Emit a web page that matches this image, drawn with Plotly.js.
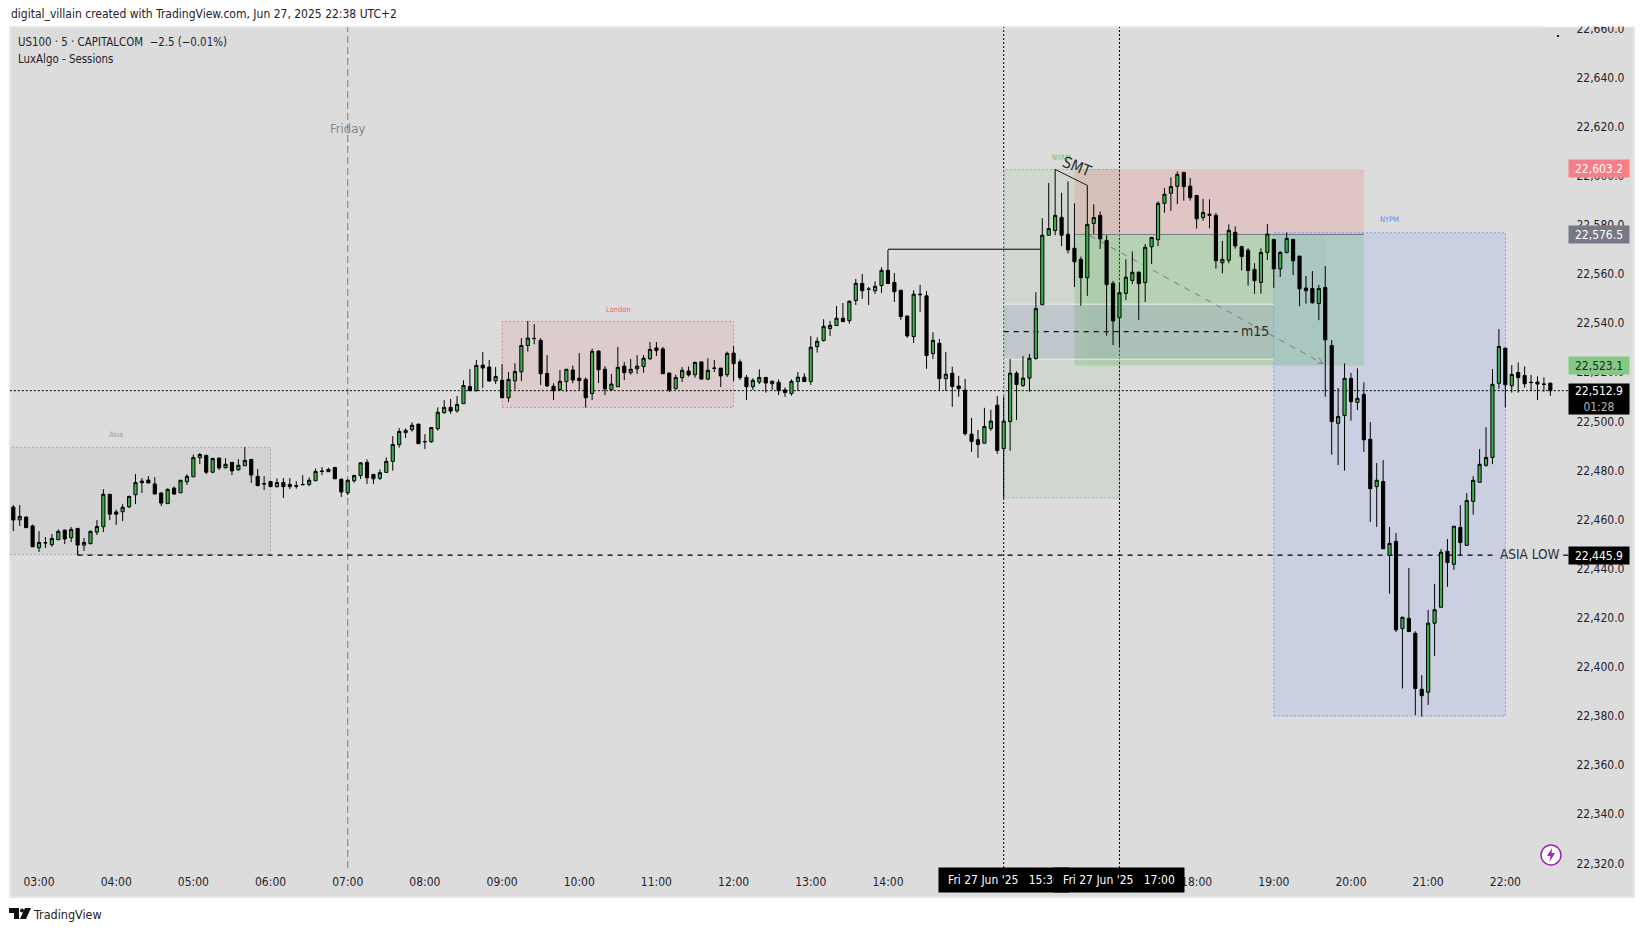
<!DOCTYPE html>
<html>
<head>
<meta charset="utf-8">
<title>US100 5m</title>
<script src="https://cdn.plot.ly/plotly-3.0.1.min.js"></script>
<style>
    html, body { margin: 0; padding: 0; background: #fff; }
    #chart { width: 1644px; height: 931px; }
</style>
</head>
<body>
<div id="chart"></div>
<script>
// candles, 5 minute bars from 02:40 to 22:35
const opens = [
    22465.5,22460.3,22461.4,22457.8,22448.9,22451.0,22450.2,22452.2,22456.1,22453.0,
    22456.8,22450.0,22450.6,22455.3,22457.5,22470.7,22463.5,22463.6,22465.6,22470.5,
    22476.1,22476.5,22474.9,22471.2,22466.9,22473.2,22471.3,22475.8,22477.8,22485.6,
    22486.5,22479.7,22485.4,22481.5,22483.7,22480.7,22482.3,22484.9,22478.0,22475.1,
    22475.9,22473.8,22475.5,22473.8,22474.2,22474.7,22474.7,22476.2,22480.2,22479.9,
    22481.6,22476.8,22471.3,22476.2,22478.3,22483.7,22478.8,22477.2,22479.6,22484.1,
    22490.9,22495.8,22497.0,22499.3,22492.2,22492.1,22497.4,22503.9,22506.1,22504.7,
    22507.6,22514.6,22512.9,22523.3,22522.5,22516.9,22517.1,22510.0,22516.9,22520.6,
    22531.3,22534.2,22533.4,22519.9,22514.7,22513.3,22516.6,22521.3,22518.0,22517.5,
    22511.7,22529.0,22521.6,22513.3,22514.5,22522.9,22520.2,22521.8,22522.7,22525.9,
    22530.3,22529.9,22520.1,22513.7,22518.2,22520.9,22519.4,22524.6,22517.6,22522.1,
    22522.1,22519.4,22528.2,22524.6,22518.3,22514.5,22516.4,22518.3,22515.7,22516.3,
    22513.2,22511.7,22516.6,22518.4,22516.6,22530.8,22533.3,22538.2,22539.4,22542.4,
    22541.4,22549.6,22556.6,22554.3,22553.6,22555.7,22561.9,22557.0,22553.8,22543.3,
    22534.9,22552.2,22551.5,22528.0,22532.2,22517.8,22520.0,22514.8,22513.1,22495.2,
    22492.9,22491.5,22497.5,22507.0,22489.3,22500.3,22520.0,22515.0,22518.0,22526.0,
    22547.9,22576.2,22578.1,22583.5,22576.6,22570.9,22566.4,22558.9,22581.0,22584.3,
    22574.1,22556.6,22542.6,22552.5,22557.8,22561.1,22556.9,22571.5,22574.4,22589.2,
    22593.3,22596.1,22601.8,22596.2,22592.4,22583.4,22584.8,22584.3,22565.0,22566.0,
    22577.4,22571.5,22570.1,22562.3,22557.0,22569.2,22574.5,22562.5,22569.2,22574.5,
    22567.7,22554.7,22554.5,22548.4,22554.9,22531.3,22499.6,22502.8,22517.9,22508.1,
    22511.4,22493.1,22473.8,22475.9,22445.8,22451.5,22416.0,22420.2,22414.1,22391.3,
    22390.1,22418.2,22424.7,22447.5,22442.2,22457.2,22449.9,22467.8,22475.6,22482.5,
    22485.7,22515.9,22530.2,22514.9,22520.3,22519.1,22516.3,22516.4,22515.6,22515.9
];
const highs = [
    22466.3,22466.3,22461.7,22458.4,22455.7,22453.3,22454.5,22456.4,22456.4,22457.4,
    22456.8,22452.9,22456.0,22460.2,22472.8,22470.7,22464.5,22466.7,22470.2,22478.9,
    22477.3,22478.1,22477.7,22471.6,22473.1,22473.9,22476.5,22478.9,22486.9,22487.5,
    22486.9,22485.4,22485.7,22485.4,22483.8,22485.0,22489.9,22484.9,22481.0,22478.1,
    22476.2,22477.2,22477.3,22477.3,22476.1,22478.5,22477.6,22481.2,22481.8,22481.5,
    22481.9,22477.2,22476.8,22478.7,22483.8,22484.9,22478.9,22480.8,22485.7,22494.4,
    22497.7,22497.5,22500.0,22499.3,22495.2,22497.9,22506.1,22509.1,22509.5,22510.7,
    22517.1,22521.7,22525.4,22528.6,22525.4,22522.5,22523.7,22520.5,22524.1,22534.3,
    22541.3,22540.0,22534.3,22527.4,22515.9,22521.3,22521.6,22523.1,22528.2,22518.3,
    22530.0,22529.3,22522.9,22519.7,22530.7,22524.6,22525.8,22527.4,22527.4,22532.7,
    22532.7,22530.7,22520.1,22519.4,22522.5,22522.7,22524.7,22524.8,22526.1,22525.4,
    22522.1,22528.8,22531.1,22525.6,22519.3,22518.0,22521.6,22518.3,22517.1,22517.5,
    22514.2,22517.5,22520.5,22520.0,22535.1,22534.6,22542.0,22541.3,22547.4,22548.6,
    22549.7,22558.4,22560.4,22555.1,22557.4,22563.1,22570.2,22560.8,22553.9,22543.3,
    22553.8,22556.0,22553.4,22536.7,22534.0,22528.7,22522.6,22518.9,22517.7,22501.8,
    22496.9,22505.9,22505.1,22510.8,22510.5,22525.8,22520.8,22527.0,22527.9,22553.0,
    22583.1,22597.5,22603.0,22593.5,22598.1,22589.2,22567.5,22596.5,22588.8,22585.9,
    22576.2,22557.6,22556.6,22566.4,22569.6,22561.5,22572.6,22575.3,22590.0,22595.4,
    22599.8,22602.2,22601.9,22599.5,22592.6,22591.0,22590.8,22585.3,22573.9,22580.6,
    22579.8,22572.0,22570.9,22564.8,22570.9,22580.7,22574.5,22569.7,22577.3,22574.6,
    22567.7,22559.6,22561.6,22555.9,22563.6,22533.5,22514.0,22524.0,22520.1,22522.0,
    22516.3,22500.1,22483.4,22484.6,22457.4,22454.9,22420.9,22440.7,22414.9,22397.1,
    22423.6,22434.2,22448.4,22452.5,22457.7,22466.3,22471.2,22478.1,22489.1,22498.0,
    22521.7,22538.0,22530.2,22523.3,22524.4,22522.8,22519.3,22518.7,22518.3,22516.3
];
const lows = [
    22455.7,22457.8,22457.1,22449.3,22447.2,22448.8,22449.3,22452.2,22450.4,22451.2,
    22445.9,22447.6,22450.3,22454.1,22455.3,22460.2,22458.2,22459.8,22465.1,22466.7,
    22471.2,22475.3,22470.8,22465.9,22466.9,22470.4,22471.3,22474.5,22477.8,22483.0,
    22478.9,22479.3,22480.6,22481.2,22478.5,22480.3,22482.3,22475.3,22474.2,22472.4,
    22473.8,22473.4,22469.2,22472.8,22473.0,22474.6,22474.0,22476.2,22478.5,22479.9,
    22477.0,22469.6,22470.4,22475.4,22476.9,22474.9,22474.9,22476.5,22479.6,22480.3,
    22489.7,22493.6,22496.2,22491.3,22489.1,22491.6,22496.6,22503.5,22503.5,22503.9,
    22507.6,22512.7,22512.5,22514.0,22516.8,22515.6,22510.0,22508.3,22513.3,22516.8,
    22528.8,22531.8,22515.2,22514.5,22509.1,22512.8,22512.5,22515.9,22513.2,22506.0,
    22509.1,22516.0,22511.1,22513.0,22514.5,22517.2,22519.4,22519.7,22520.2,22525.4,
    22527.0,22519.8,22512.3,22513.4,22516.4,22518.6,22518.2,22517.4,22517.2,22520.5,
    22514.4,22518.5,22516.8,22517.2,22509.1,22513.2,22515.6,22512.1,22513.2,22511.1,
    22510.4,22510.9,22512.8,22516.6,22515.2,22528.4,22532.9,22535.2,22539.4,22541.0,
    22540.2,22547.8,22550.3,22547.8,22552.3,22552.7,22556.5,22549.0,22541.7,22534.4,
    22532.3,22545.0,22521.8,22525.8,22512.8,22512.8,22506.3,22510.4,22494.6,22488.0,
    22485.5,22491.5,22496.5,22487.2,22469.2,22488.4,22501.0,22514.4,22512.5,22525.5,
    22547.9,22576.2,22576.2,22571.8,22568.8,22555.1,22547.5,22551.5,22576.7,22570.6,
    22535.3,22531.5,22530.6,22549.8,22556.3,22541.7,22549.0,22564.5,22571.8,22585.4,
    22586.1,22588.9,22590.3,22590.3,22578.9,22582.1,22579.0,22562.6,22560.7,22564.8,
    22570.7,22561.8,22555.7,22552.4,22552.4,22566.1,22554.8,22559.2,22568.8,22560.0,
    22547.3,22548.3,22548.3,22541.6,22510.4,22486.8,22482.6,22480.3,22500.7,22505.0,
    22488.0,22459.4,22457.4,22448.5,22430.2,22414.6,22391.6,22414.8,22380.8,22380.2,
    22384.9,22404.9,22424.7,22433.0,22439.9,22445.6,22449.9,22462.4,22475.6,22481.9,
    22483.0,22513.7,22506.0,22512.1,22512.1,22514.1,22512.7,22509.1,22512.5,22510.8
];
const closes = [
    22460.2,22461.7,22457.1,22449.3,22451.1,22450.9,22452.7,22455.6,22452.5,22456.4,
    22450.0,22451.1,22455.6,22457.6,22470.7,22462.6,22462.6,22465.4,22469.8,22475.5,
    22475.4,22475.3,22470.8,22467.1,22472.7,22470.8,22476.4,22478.0,22485.7,22486.9,
    22479.7,22485.3,22481.4,22482.9,22480.2,22482.5,22484.5,22478.5,22474.2,22474.9,
    22473.8,22475.5,22473.8,22474.7,22474.0,22474.6,22476.4,22480.0,22480.0,22480.8,
    22477.0,22471.6,22476.4,22478.3,22483.5,22477.4,22477.0,22479.5,22484.1,22491.0,
    22496.3,22496.7,22498.8,22491.3,22492.1,22497.9,22504.1,22506.1,22504.6,22507.3,
    22515.0,22512.9,22523.2,22522.1,22516.8,22518.7,22510.0,22517.5,22520.7,22531.3,
    22534.3,22534.1,22519.8,22514.8,22512.9,22516.7,22521.6,22517.2,22517.0,22510.0,
    22528.9,22521.4,22513.6,22515.6,22522.4,22520.2,22521.6,22522.9,22526.1,22529.7,
    22529.2,22519.8,22513.2,22518.3,22521.2,22519.3,22524.4,22517.6,22521.2,22522.0,
    22518.9,22528.1,22523.9,22518.2,22514.5,22517.1,22518.3,22516.0,22516.7,22512.9,
    22512.1,22516.7,22518.4,22516.6,22530.6,22533.0,22539.1,22539.5,22542.4,22541.0,
    22549.3,22556.6,22553.6,22554.2,22555.4,22561.9,22556.5,22553.2,22543.1,22535.2,
    22552.2,22552.0,22527.2,22533.4,22517.8,22519.6,22514.6,22513.7,22495.4,22492.2,
    22491.0,22498.3,22500.5,22488.5,22500.5,22520.0,22515.4,22518.0,22526.1,22546.3,
    22576.2,22578.9,22584.3,22576.2,22570.2,22565.4,22558.9,22580.6,22583.4,22574.7,
    22556.1,22541.3,22552.8,22559.1,22561.1,22556.5,22571.3,22575.3,22589.2,22592.9,
    22596.0,22601.0,22596.0,22591.5,22582.9,22585.5,22584.3,22565.8,22566.4,22578.2,
    22571.8,22567.5,22561.8,22557.7,22569.2,22576.7,22562.5,22569.2,22574.9,22565.8,
    22554.4,22553.6,22548.7,22554.5,22533.6,22500.3,22502.4,22517.9,22508.4,22509.8,
    22492.9,22473.0,22476.4,22448.5,22450.7,22415.5,22420.6,22414.8,22391.6,22388.7,
    22418.2,22423.7,22447.1,22442.9,22457.7,22451.0,22468.2,22476.4,22482.9,22485.7,
    22515.5,22530.9,22515.3,22519.5,22518.2,22515.7,22516.2,22515.6,22515.5,22512.9
];

const DAY = '2025-06-27 ';
const START_MS = Date.UTC(2025, 5, 27, 2, 40);
const FONT = '"DejaVu Sans Condensed", "DejaVu Sans", sans-serif';
const INK = '#1e222d';

// hours that show on the time axis, 15:00 to 17:00 sit behind the crosshair tags
const hourLabels = ['03:00','04:00','05:00','06:00','07:00','08:00','09:00','10:00','11:00','12:00','13:00','14:00','18:00','19:00','20:00','21:00','22:00'];

// price levels on the axis labels
const lastPrice = 22512.9;
const asiaLow = 22445.9;
const stopPrice = 22603.2;
const entryPrice = 22576.5;
const targetPrice = 22523.1;

// plot box on the page, px
const PLOT = { l: 10, r: 1569, t: 27, b: 868 };
const pxX = px => (px - PLOT.l) / (PLOT.r - PLOT.l);
const pxY = py => (PLOT.b - py) / (PLOT.b - PLOT.t);

function barTime(k) {
    return new Date(START_MS + k * 300000).toISOString().slice(0, 19).replace('T', ' ');
}
const candleTimes = opens.map((_, k) => barTime(k));

function rect(x0, x1, y0, y1, fill, lineColor, dash) {
    return {
        type: 'rect', layer: 'below', xref: 'x', yref: 'y',
        x0: DAY + x0, x1: DAY + x1, y0: y0, y1: y1, fillcolor: fill,
        line: { color: lineColor || 'rgba(0,0,0,0)', width: lineColor ? 1 : 0, dash: dash || 'solid' },
    };
}
function seg(x0, y0, x1, y1, color, width, dash) {
    return {
        type: 'line', layer: 'below', xref: 'x', yref: 'y',
        x0: DAY + x0, x1: DAY + x1, y0: y0, y1: y1,
        line: { color: color, width: width || 1, dash: dash || 'solid' },
    };
}
function vLine(x, color, dash) {
    return {
        type: 'line', layer: 'below', xref: 'x', yref: 'paper',
        x0: DAY + x, x1: DAY + x, y0: 0, y1: 1, line: { color: color, width: 1, dash: dash },
    };
}
function pageRect(l, r, t, b, fill, layer, lineColor) {
    return {
        type: 'rect', layer: layer, xref: 'paper', yref: 'paper',
        x0: pxX(l), x1: pxX(r), y0: pxY(b), y1: pxY(t), fillcolor: fill,
        line: { color: lineColor || 'rgba(0,0,0,0)', width: lineColor ? 2 : 0 },
    };
}
function pagePath(points, fill) {
    const d = points.map((p, i) => (i ? 'L' : 'M') + pxX(p[0]) + ' ' + pxY(p[1])).join(' ') + ' Z';
    return { type: 'path', layer: 'above', xref: 'paper', yref: 'paper', path: d, fillcolor: fill, line: { width: 0 } };
}
function pageText(text, px, py, size, color, anchor, extra) {
    return Object.assign({
        text: text, xref: 'paper', yref: 'paper', x: pxX(px), y: pxY(py), showarrow: false,
        xanchor: anchor || 'center', yanchor: 'middle', font: { family: FONT, size: size, color: color },
    }, extra || {});
}
function priceTag(text, price, bg, color, height, yshift) {
    return {
        text: text, xref: 'paper', yref: 'y', x: pxX(1568), y: price, xanchor: 'left', yanchor: yshift ? 'top' : 'middle',
        yshift: yshift || 0, showarrow: false, width: 60, height: height, bgcolor: bg, borderpad: 0, align: 'center',
        font: { family: FONT, size: 12, color: color },
    };
}
function timeTag(text, x) {
    return {
        text: text, xref: 'x', yref: 'paper', x: DAY + x, y: 1, yshift: -(PLOT.b - PLOT.t) - 12, xanchor: 'center', yanchor: 'middle',
        showarrow: false, width: 130, height: 24, bgcolor: '#000', borderpad: 0, align: 'center',
        font: { family: FONT, size: 12, color: '#fff' },
    };
}

const trace = {
    type: 'candlestick', x: candleTimes, open: opens, high: highs, low: lows, close: closes,
    whiskerwidth: 0,
    increasing: { line: { color: '#000', width: 1 }, fillcolor: '#3cae49' },
    decreasing: { line: { color: '#000', width: 1 }, fillcolor: '#000' },
    hoverinfo: 'skip', showlegend: false,
};

const shapes = [
    pageRect(10, 1634, 27, 897, '#dcdcdc', 'below', '#e6e6e6'),
    // sessions
    rect('02:00', '06:00', 22446.2, 22489.8, 'rgba(120,120,120,0.09)', '#a9a9a9', '2px,2px'),
    rect('09:00', '12:00', 22506.1, 22541.1, 'rgba(235,70,90,0.10)', '#e8808a', '2px,2px'),
    rect('15:30', '17:00', 22469.2, 22603.0, 'rgba(80,170,80,0.09)', '#8fc493', '2px,2px'),
    // position tool
    rect('16:25', '20:10', 22576.5, 22603.2, 'rgba(246,66,66,0.15)'),
    rect('16:25', '20:10', 22523.1, 22576.5, 'rgba(65,180,55,0.20)'),
    rect('16:35', '19:40', 22523.1, 22576.5, 'rgba(60,160,60,0.04)'),
    rect('19:00', '22:00', 22380.4, 22577.2, 'rgba(100,140,253,0.15)', '#7f9df0', '2px,2px'),
    // m15 zone
    rect('15:30', '19:00', 22525.7, 22548.1, 'rgba(120,120,200,0.16)'),
    seg('15:30', 22548.1, '19:00', 22548.1, '#e9eee9', 1),
    seg('15:30', 22525.7, '19:00', 22525.7, '#e9eee9', 1),
    seg('15:30', 22536.9, '18:32', 22536.9, '#111', 1.2, '5px,5px'),
    seg('16:25', 22576.5, '20:10', 22576.5, '#787b86', 1),
    // drawings
    vLine('07:00', '#787b86', '7px,4px'),
    vLine('15:30', '#000', '2px,2px'),
    vLine('17:00', '#000', '2px,2px'),
    seg('02:00', lastPrice, '23:00', lastPrice, '#000', 1, '2px,2px'),
    seg('03:30', asiaLow, '21:50', asiaLow, '#000', 1.2, '5px,5px'),
    seg('22:45', asiaLow, '22:49', asiaLow, '#000', 1.2),
    seg('03:30', asiaLow, '03:30', 22448, '#000', 1),
    seg('14:00', 22570.5, '16:00', 22570.5, '#000', 1),
    seg('16:10', 22603.0, '16:35', 22596.5, '#222', 1),
    seg('16:37', 22576.0, '19:38', 22524.0, '#787b86', 1, '6px,6px'),
    seg('19:38', 22524.0, '19:35', 22526.4, '#787b86', 1),
    seg('19:38', 22524.0, '19:34', 22524.1, '#787b86', 1),
    // page furniture, covers the clipped top tick label
    pageRect(1540, 1644, 0, 26.5, '#fff', 'above'),
    pagePath([[1557, 35], [1559, 35], [1559, 37], [1557, 37]], '#111'),
    { type: 'circle', layer: 'above', xref: 'paper', yref: 'paper', x0: pxX(1541), x1: pxX(1561), y0: pxY(865), y1: pxY(845),
      fillcolor: '#fff', line: { color: '#9c27b0', width: 1.5 } },
    pagePath([[1552, 848], [1547, 856], [1550.5, 856], [1549.5, 862], [1555, 853], [1551.5, 853]], '#9c27b0'),
    // TradingView mark
    pagePath([[9, 908], [19, 908], [19, 919], [14, 919], [14, 913], [9, 913]], '#111'),
    pagePath([[25, 908], [31, 908], [26, 919], [20, 919]], '#111'),
    { type: 'circle', layer: 'above', xref: 'paper', yref: 'paper', x0: pxX(20), x1: pxX(24), y0: pxY(912.5), y1: pxY(908.5),
      fillcolor: '#111', line: { width: 0 } },
];

const annotations = [
    pageText('digital_villain created with TradingView.com, Jun 27, 2025 22:38 UTC+2', 9, 14, 12, INK, 'left'),
    pageText('US100 · 5 · CAPITALCOM  −2.5 (−0.01%)', 16, 42, 11.4, INK, 'left'),
    pageText('LuxAlgo - Sessions', 16, 59, 11.4, INK, 'left'),
    pageText('Friday', 347, 128.5, 13, '#858894'),
    pageText('Asia', 116, 434.5, 7.5, '#9a9aa0'),
    pageText('London', 618, 309, 7.5, '#f0606e'),
    pageText('NYAM', 1061, 157.5, 7.5, '#6fbf73'),
    pageText('NYPM', 1389, 220, 7.5, '#5b8def'),
    pageText('SMT', 1077, 167, 15.5, '#2a2a2a', 'center', { textangle: 22 }),
    pageText('m15', 1255, 331.5, 14, '#2a2e39'),
    pageText('ASIA LOW', 1530, 554, 13.5, '#2a2e39'),
    pageText('TradingView', 31, 914, 12.5, INK, 'left'),
    priceTag(stopPrice.toLocaleString('en-US'), stopPrice, '#f87e85', '#fff', 17),
    priceTag(entryPrice.toLocaleString('en-US'), entryPrice, '#777a86', '#fff', 17),
    priceTag(targetPrice.toLocaleString('en-US'), targetPrice, '#85c985', INK, 17),
    priceTag(lastPrice.toLocaleString('en-US') + '<br><span style="color:#b5b5b5">01:28</span>', lastPrice, '#000', '#fff', 30, 8),
    priceTag(asiaLow.toLocaleString('en-US'), asiaLow, '#000', '#fff', 17),
    timeTag("Fri 27 Jun '25\u00a0\u00a0\u00a015:30", '15:30'),
    timeTag("Fri 27 Jun '25\u00a0\u00a0\u00a017:00", '17:00'),
];

const layout = {
    width: 1644, height: 931,
    margin: { l: PLOT.l, r: 1644 - PLOT.r, t: PLOT.t, b: 931 - PLOT.b, pad: 0 },
    paper_bgcolor: '#ffffff', plot_bgcolor: '#dcdcdc',
    font: { family: FONT, color: INK, size: 12 },
    showlegend: false, boxgap: 0.3, dragmode: false,
    xaxis: {
        type: 'date', range: ['2025-06-27 02:37:26', '2025-06-27 22:49:30'],
        tickmode: 'array', tickvals: hourLabels.map(h => DAY + h), ticktext: hourLabels,
        showgrid: false, zeroline: false, showline: false,
        ticks: 'outside', ticklen: 3, tickcolor: 'rgba(0,0,0,0)',
        rangeslider: { visible: false },
    },
    yaxis: {
        side: 'right', range: [22318.5, 22661.0], tick0: 22320, dtick: 20, tickformat: ',.1f',
        showgrid: false, zeroline: false, showline: false,
        ticks: 'outside', ticklen: 4, tickcolor: 'rgba(0,0,0,0)', ticklabelshift: -1,
    },
    shapes: shapes,
    annotations: annotations,
};

Plotly.newPlot('chart', [trace], layout, { displayModeBar: false, responsive: false });
</script>
</body>
</html>
